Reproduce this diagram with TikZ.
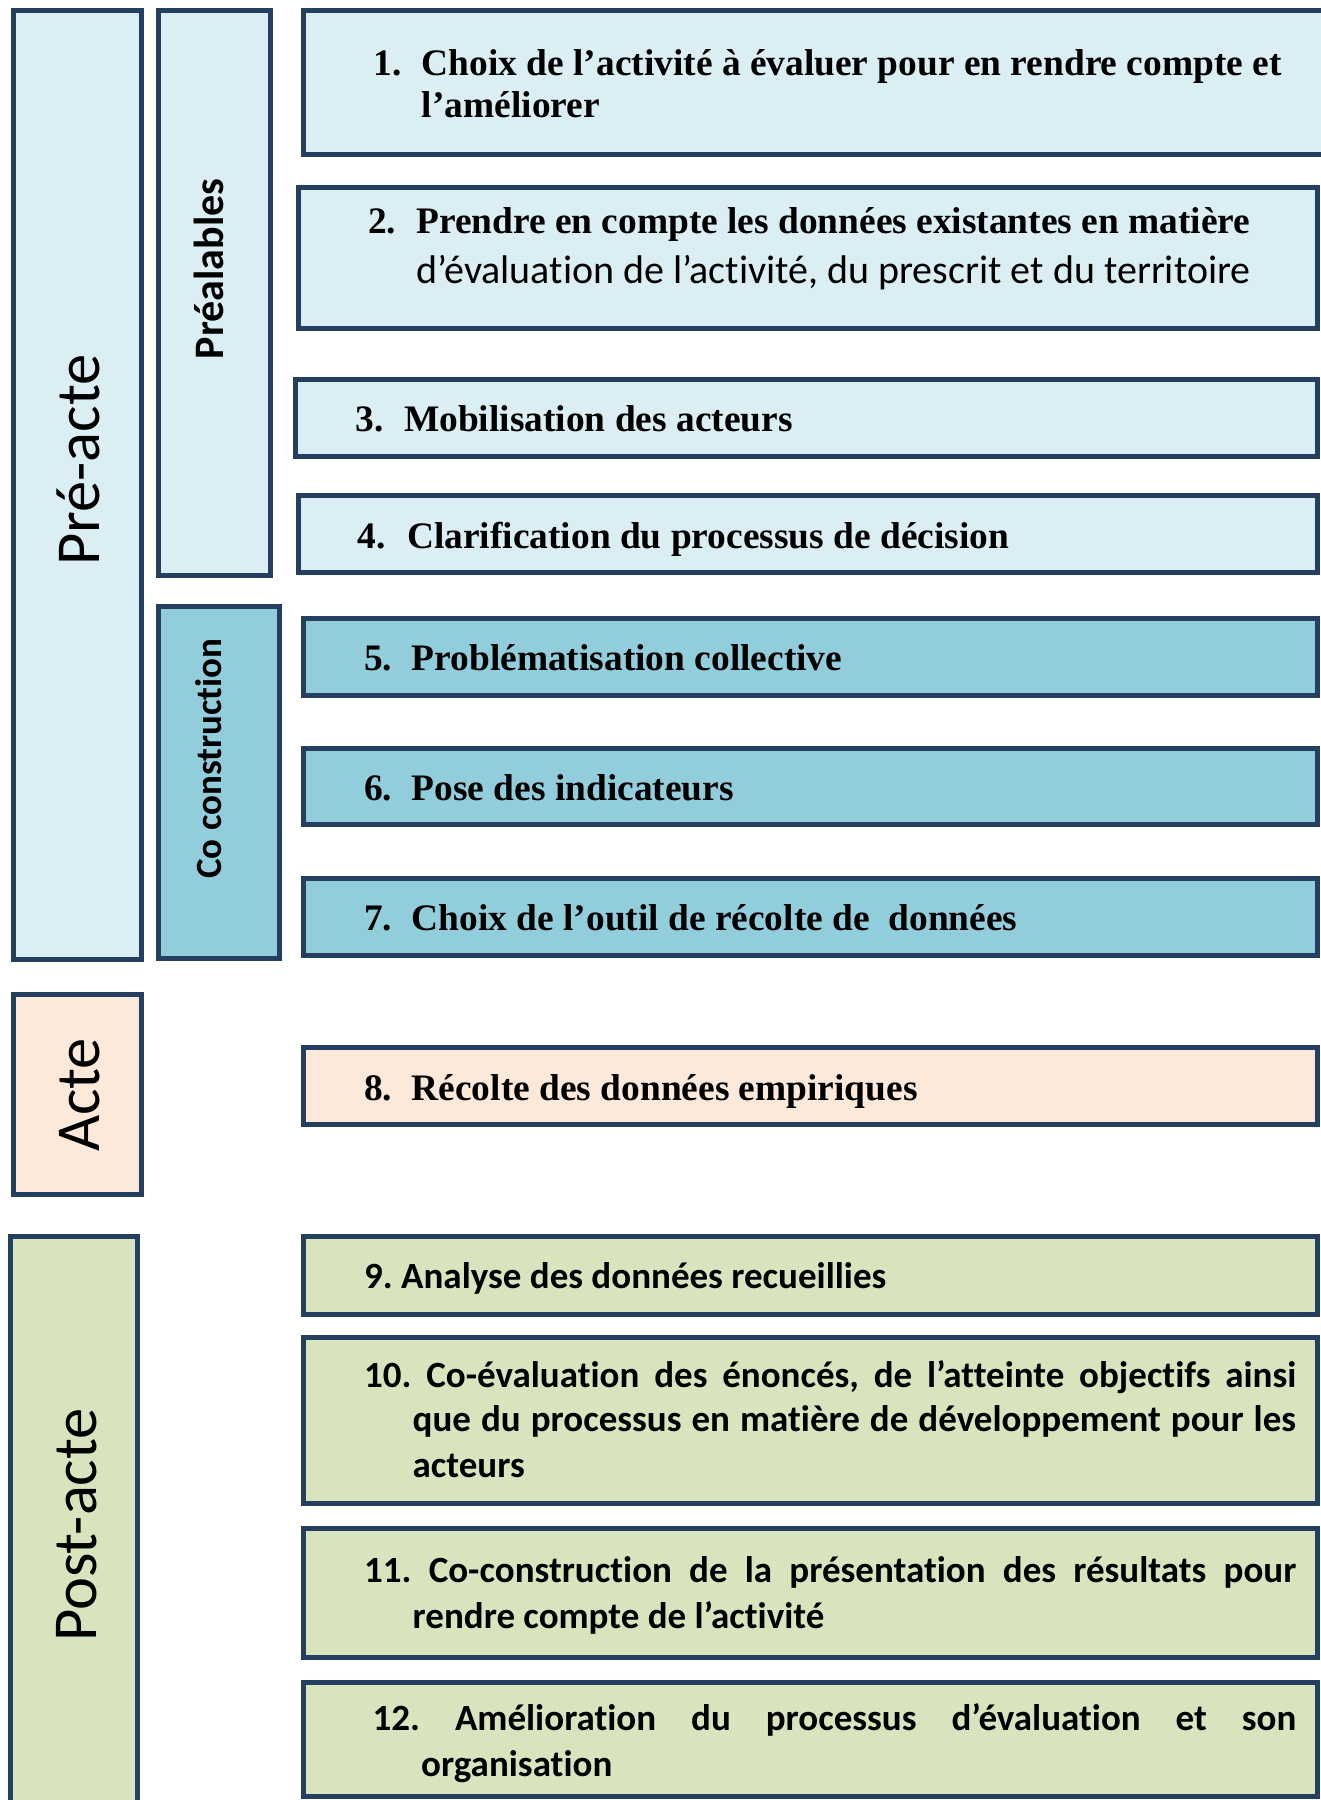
\documentclass[tikz,border=0pt]{standalone}
\usepackage{fontspec}
\setmainfont{Liberation Serif}
\newfontfamily\carl[Ligatures=NoCommon]{Carlito}
\definecolor{bordc}{HTML}{243F60}
\definecolor{lblue}{HTML}{DAEEF3}
\definecolor{mblue}{HTML}{92CDDC}
\definecolor{peach}{HTML}{FDE9D9}
\definecolor{lgreen}{HTML}{D7E4BD}
\frenchspacing
\begin{document}
\begin{tikzpicture}[x=1pt,y=-1pt,
  box/.style={draw=bordc, line width=5pt, inner sep=0pt, rectangle},
  tline/.style={anchor=base west, inner sep=0pt, font=\fontsize{37.4}{44}\selectfont\bfseries},
  cline/.style={anchor=base west, inner sep=0pt, font=\fontsize{37}{44}\selectfont\carl\bfseries},
  side/.style={rotate=90, anchor=base, inner sep=0pt, font=\fontsize{62.5}{70}\selectfont\carl},
  sub/.style={rotate=90, anchor=base, inner sep=0pt, font=\fontsize{#1}{46}\selectfont\carl\bfseries}]
\useasboundingbox (0,0) rectangle (1321,1800);
\clip (0,0) rectangle (1321,1800);
% phase columns
\node[box, fill=lblue, minimum width=128pt, minimum height=949pt] (preacte) at (77.5,485) {};
\node[box, fill=peach, minimum width=128pt, minimum height=200pt] (acte) at (77.5,1094.5) {};
\node[box, fill=lgreen, minimum width=127pt, minimum height=576pt] (postacte) at (74,1524.5) {};
\node[box, fill=lblue, minimum width=112pt, minimum height=565pt] (prealables) at (214.5,293) {};
\node[box, fill=mblue, minimum width=121pt, minimum height=352pt] (coconstr) at (219,782.5) {};
% step boxes
\node[box, fill=lblue, minimum width=1024pt, minimum height=144pt] (b1) at (815.5,82.5) {};
\node[box, fill=lblue, minimum width=1019pt, minimum height=141pt] (b2) at (808,258) {};
\node[box, fill=lblue, minimum width=1022pt, minimum height=77pt] (b3) at (806.5,418) {};
\node[box, fill=lblue, minimum width=1019pt, minimum height=77pt] (b4) at (808,534) {};
\node[box, fill=mblue, minimum width=1014pt, minimum height=77pt] (b5) at (810.5,657) {};
\node[box, fill=mblue, minimum width=1014pt, minimum height=76pt] (b6) at (810.5,786.5) {};
\node[box, fill=mblue, minimum width=1014pt, minimum height=77pt] (b7) at (810.5,917) {};
\node[box, fill=peach, minimum width=1014pt, minimum height=77pt] (b8) at (810.5,1086) {};
\node[box, fill=lgreen, minimum width=1014pt, minimum height=78pt] (b9) at (810.5,1275.5) {};
\node[box, fill=lgreen, minimum width=1014pt, minimum height=166pt] (b10) at (810.5,1420.5) {};
\node[box, fill=lgreen, minimum width=1014pt, minimum height=129pt] (b11) at (810.5,1593) {};
\node[box, fill=lgreen, minimum width=1014pt, minimum height=114pt] (b12) at (810.5,1739.5) {};
% side labels
\node[side] (lpre) at (99,460) {Pré-acte};
\node[side] (lacte) at (99,1095) {Acte};
\node[side] (lpost) at (96,1525) {Post-acte};
\node[sub=42] (lprea) at (223,269) {Préalables};
\node[sub=37] (lco) at (221,758.5) {Co construction};
% texts
\node[tline] (t1a) at (373.7,75) {\makebox[48pt][l]{1.}Choix de l’activité à évaluer pour en rendre compte et};
\node[tline] (t1b) at (421.7,117) {l’améliorer};
\node[tline] (t2a) at (368,233) {\makebox[48pt][l]{2.}Prendre en compte les données existantes en matière};
\node[tline, font=\fontsize{40}{46}\selectfont\carl] (t2b) at (416,283) {d’évaluation de l’activité, du prescrit et du territoire};
\node[tline] (t3) at (355.6,431.7) {\makebox[48.4pt][l]{3.}Mobilisation des acteurs};
\node[tline] (t4) at (357.7,548) {\makebox[49.3pt][l]{4.}Clarification du processus de décision};
\node[tline] (t5) at (364,670.6) {\makebox[47.6pt][l]{5.}Problématisation collective};
\node[tline] (t6) at (364,800) {\makebox[47.6pt][l]{6.}Pose des indicateurs};
\node[tline] (t7) at (364,930) {\makebox[47.6pt][l]{7.}Choix de l’outil de récolte de\ \ données};
\node[tline] (t8) at (364,1100) {\makebox[47.6pt][l]{8.}Récolte des données empiriques};
\node[cline] (t9) at (364,1288) {9. Analyse des données recueillies};
\node[cline] (t10a) at (364,1387.5) {\makebox[932pt][s]{10. Co-évaluation des énoncés, de l’atteinte objectifs ainsi}};
\node[cline] (t10b) at (412.5,1431.5) {\makebox[883.5pt][s]{que du processus en matière de développement pour les}};
\node[cline] (t10c) at (412.5,1477.5) {acteurs};
\node[cline] (t11a) at (364,1582.7) {\makebox[932pt][s]{11. Co-construction de la présentation des résultats pour}};
\node[cline] (t11b) at (412.5,1628.6) {rendre compte de l’activité};
\node[cline] (t12a) at (372.5,1730) {\makebox[923.5pt][s]{12. Amélioration du processus d’évaluation et son}};
\node[cline] (t12b) at (421,1776) {organisation};
\end{tikzpicture}
\end{document}
